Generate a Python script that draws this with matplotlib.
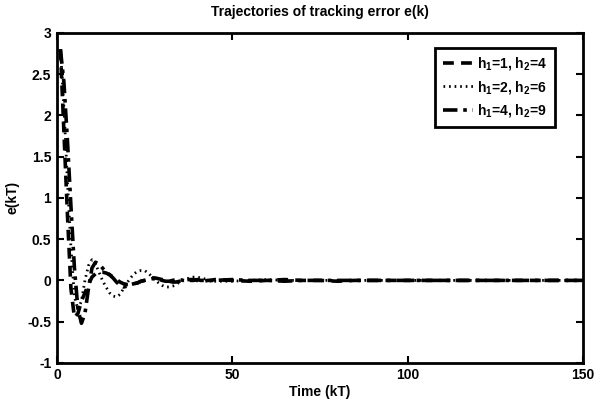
import matplotlib
matplotlib.use('Agg')
import matplotlib.pyplot as plt

plt.rcParams['font.family'] = 'Liberation Sans'
plt.rcParams['font.weight'] = 'bold'
plt.rcParams['mathtext.fontset'] = 'custom'
plt.rcParams['mathtext.rm'] = 'Liberation Sans:bold'
plt.rcParams['mathtext.it'] = 'Liberation Sans:bold'
plt.rcParams['mathtext.bf'] = 'Liberation Sans:bold'

# sample instants k (dense early, sparse in the settled tail)
k = list(range(1, 46)) + list(range(50, 151, 5))

# h1=1, h2=4
e_dashed = [2.80, 1.80, 0.80, -0.10, -0.45, -0.40, -0.25, -0.15, -0.05, 0.04,
            0.08, 0.10, 0.10, 0.09, 0.07, 0.04, 0.01, -0.02, -0.04, -0.05,
            -0.05, -0.04, -0.03, -0.01, 0.00, 0.02, 0.03, 0.03, 0.02, 0.01,
            0.00, -0.01, -0.02, -0.02, -0.01, 0.00, 0.01, 0.01, 0.01, 0.00,
            -0.01, -0.01, 0.00, 0.00, 0.01,
            0.00, -0.01, 0.00, 0.01, 0.00, 0.00, -0.01, 0.00, 0.00, 0.00,
            0.00, 0.00, 0.00, 0.00, 0.00, 0.00, 0.00, 0.00, 0.00, 0.00, 0.00]

# h1=2, h2=6
e_dotted = [2.80, 2.10, 1.20, 0.40, -0.20, -0.35, -0.25, 0.00, 0.18, 0.25,
            0.20, 0.10, 0.00, -0.08, -0.15, -0.19, -0.20, -0.17, -0.10, -0.03,
            0.03, 0.08, 0.11, 0.12, 0.12, 0.09, 0.05, 0.01, -0.03, -0.06,
            -0.08, -0.08, -0.07, -0.05, -0.02, 0.00, 0.02, 0.03, 0.04, 0.04,
            0.03, 0.02, 0.01, 0.00, -0.01,
            -0.01, 0.00, 0.01, 0.00, 0.00, 0.00, 0.00, 0.00, 0.00, 0.00,
            0.00, 0.00, 0.00, 0.00, 0.00, 0.00, 0.00, 0.00, 0.00, 0.00, 0.00]

# h1=4, h2=9
e_dashdot = [2.80, 2.40, 1.70, 0.90, 0.15, -0.35, -0.52, -0.40, -0.10, 0.15,
             0.22, 0.20, 0.15, 0.10, 0.07, 0.03, -0.02, -0.06, -0.08, -0.07,
             -0.05, -0.04, -0.03, -0.01, 0.00, 0.01, 0.02, 0.02, 0.01, 0.00,
             -0.01, -0.01, 0.00, 0.01, 0.01, 0.00, -0.01, 0.00, 0.00, 0.01,
             0.00, 0.00, -0.01, 0.00, 0.00,
             0.01, 0.00, 0.00, -0.01, 0.00, 0.00, 0.00, 0.00, 0.00, 0.00,
             0.00, 0.00, 0.00, 0.00, 0.00, 0.00, 0.00, 0.00, 0.00, 0.00, 0.00]

labels = [r'h$_1$=1, h$_2$=4', r'h$_1$=2, h$_2$=6', r'h$_1$=4, h$_2$=9']

fig = plt.figure(figsize=(5.99, 4.01), dpi=100)
ax = fig.add_axes([0.095, 0.095, 0.878, 0.823])

ax.plot(k, e_dashed, color='black', lw=2.6, ls=(0, (3, 2)), label=labels[0])
ax.plot(k, e_dotted, color='black', lw=2.0, ls=(0, (0.6, 1.4)), label=labels[1])
ax.plot(k, e_dashdot, color='black', lw=2.6, ls=(0, (4, 1.6, 1, 1.6)), label=labels[2])

ax.set_xlim(0, 150)
ax.set_ylim(-1, 3)
ax.set_xticks([0, 50, 100, 150])
ax.set_yticks([-1, -0.5, 0, 0.5, 1, 1.5, 2, 2.5, 3])
ax.set_yticklabels(['-1', '-0.5', '0', '0.5', '1', '1.5', '2', '2.5', '3'])
ax.tick_params(direction='in', length=5, width=1.5, top=True, right=True,
               labelsize=10, pad=4)
for s in ax.spines.values():
    s.set_linewidth(2)

ax.set_title('Trajectories of tracking error e(k)', fontsize=10, fontweight='bold', pad=12)
ax.set_xlabel('Time (kT)', fontsize=10, fontweight='bold', labelpad=2)
ax.set_ylabel('e(kT)', fontsize=10, fontweight='bold', labelpad=6)

leg = ax.legend(loc='upper right', bbox_to_anchor=(0.947, 0.955), borderaxespad=0,
                fontsize=10, handlelength=2.2, handletextpad=0.3, borderpad=0.55,
                labelspacing=0.45, fancybox=False, framealpha=1, edgecolor='black')
leg.get_frame().set_linewidth(2)

fig.savefig('out.png', dpi=100)
